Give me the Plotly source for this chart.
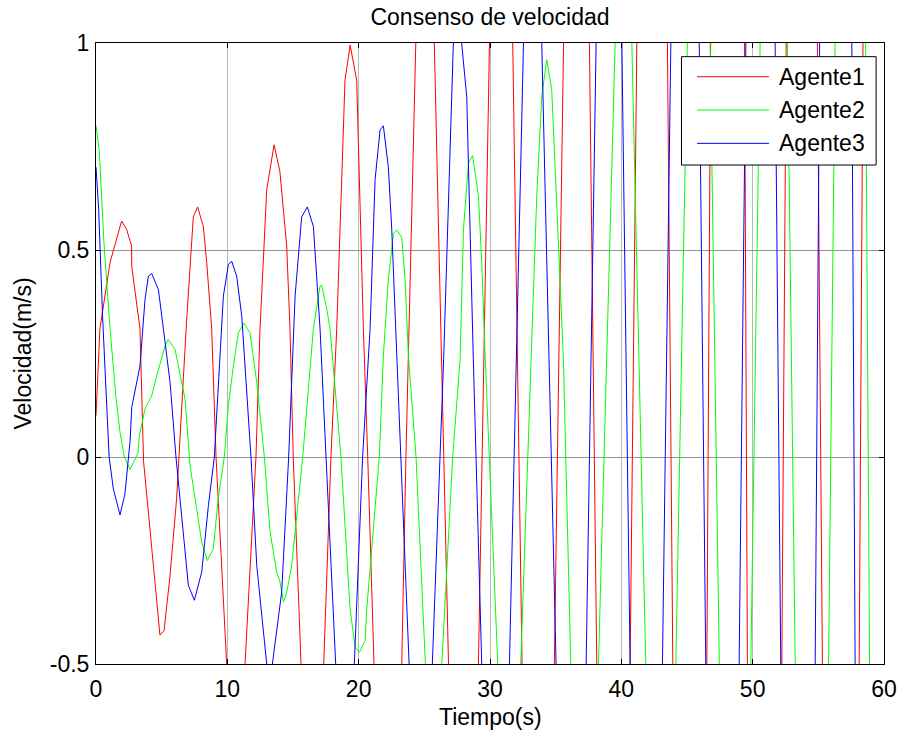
import plotly.graph_objects as go

# ---- data (time in s, velocity in m/s) ----
t_agente1 = [0, 0.3, 1.07, 1.95, 2.33, 2.71, 2.72, 3.35, 3.62, 4.11, 4.49, 4.87, 5.18, 5.64, 6.14,
             6.9, 7.41, 7.74, 8.17, 8.43, 8.81, 9.14, 9.95, 10.66, 11.35, 12.18, 12.49, 13.0, 13.56,
             14.0, 14.52, 14.77, 15.02, 15.61, 16.48, 17.34, 17.89, 18.33, 18.96, 19.35, 19.85, 20.36,
             20.69, 21.17, 22.2, 23.28, 23.6, 24.35, 25.05, 25.76, 26.84, 27.98, 29.12, 29.96, 30.85,
             31.73, 32.44, 33.67, 34.9, 35.6, 36.6, 37.57, 38.13, 39.4, 40.67, 41.18, 42.35, 43.51,
             43.92, 45.2, 46.51, 46.8, 48.1, 49.38, 49.6, 50.9, 52.22, 52.55, 53.75, 54.95, 55.31,
             56.7, 58.11, 58.4, 59.3, 60]
v_agente1 = [0.10, 0.31, 0.47, 0.57, 0.55, 0.51, 0.46, 0.31, -0.01, -0.18, -0.318, -0.43, -0.42, -0.286, -0.10,
             0.33, 0.58, 0.604, 0.557, 0.47, 0.31, 0.0, -0.5, -0.68, -0.5, 0.0, 0.31, 0.646, 0.754,
             0.69, 0.51, 0.31, 0.0, -0.5, -0.85, -0.5, 0.0, 0.31, 0.91, 0.995, 0.91, 0.31,
             0.0, -0.5, -1.1, -0.5, 0.0, 1.0, 1.35, 1.0, -0.5, -1.45, -0.5, 1.0, 1.8,
             1.0, -0.5, -1.9, -0.5, 1.0, 2.4, 1.0, -0.5, -2.6, -0.5, 1.0, 3.2, 1.0,
             -0.5, -3.6, -0.5, 1.0, 4.3, 1.0, -0.5, -4.8, -0.5, 1.0, 5.6, 1.0, -0.5,
             -6.2, -0.5, 1.0, 7.2, 4.0]

t_agente2 = [0, 0.25, 0.6, 1.07, 1.5, 1.83, 2.16, 2.59, 2.9, 3.2, 3.3, 3.73, 4.24, 4.62, 5.26, 5.5,
             6.02, 6.4, 6.78, 7.16, 7.54, 7.79, 8.05, 8.48, 8.93, 9.31, 9.77, 10.08, 10.46, 10.84,
             11.27, 11.73, 12.24, 12.82, 13.25, 13.76, 14.0, 14.27, 14.5, 14.9, 15.74, 16.55, 17.06,
             17.19, 17.57, 17.82, 18.65, 19.34, 19.73, 20.06, 20.49, 20.62, 21.57, 21.88, 22.26,
             22.65, 22.9, 23.28, 23.53, 23.79, 24.37, 25.08, 25.7, 26.33, 27.16, 27.72, 27.98, 28.36,
             28.68, 29.12, 29.37, 29.63, 30.59, 31.47, 32.34, 33.13, 33.56, 33.94, 34.32, 34.7, 34.95,
             35.2, 35.59, 36.15, 37.2, 38.26, 39.53, 40.17, 40.8, 41.86, 43.0, 44.15, 45.03, 45.9,
             46.76, 47.46, 48.66, 49.86, 50.57, 51.6, 52.65, 53.24, 54.5, 55.78, 56.28, 57.4, 58.6,
             58.9, 60]
v_agente2 = [0.80, 0.74, 0.52, 0.31, 0.15, 0.06, 0.0, -0.03, -0.01, 0.01, 0.05, 0.116, 0.148, 0.196, 0.268, 0.284,
             0.26, 0.204, 0.14, -0.02, -0.10, -0.15, -0.206, -0.25, -0.222, -0.10, 0.0, 0.124, 0.22, 0.30,
             0.323, 0.30, 0.18, 0.0, -0.18, -0.278, -0.30, -0.35, -0.33, -0.262, 0.0, 0.31, 0.413,
             0.414, 0.357, 0.31, 0.0, -0.366, -0.459, -0.472, -0.443, -0.366, 0.0, 0.244, 0.43,
             0.54, 0.549, 0.53, 0.43, 0.244, 0.0, -0.5, -0.6, -0.5, 0.0, 0.236, 0.55, 0.71,
             0.728, 0.63, 0.47, 0.244, -0.5, -0.72, -0.5, 0.236, 0.63, 0.87, 0.96, 0.887, 0.71,
             0.51, 0.236, -0.5, -0.85, -0.5, 1.0, 1.2, 1.0, -0.5, -1.05, -0.5, 1.0, 1.5,
             1.0, -0.5, -1.3, -0.5, 1.0, 1.8, 1.0, -0.5, -1.6, -0.5, 1.0, 2.2, 1.0,
             -0.5, -2.0]

t_agente3 = [0, 0.2, 0.5, 1.0, 1.32, 1.83, 2.2, 2.6, 2.72, 3.35, 3.73, 3.99, 4.24, 4.75, 5.13, 5.64,
             6.09, 6.52, 7.03, 7.49, 8.05, 8.56, 9.01, 9.7, 10.08, 10.33, 10.71, 11.1, 11.8, 12.24,
             13.0, 13.2, 13.43, 14.14, 14.67, 15.16, 15.66, 16.09, 16.55, 17.06, 17.51, 18.25, 18.96,
             19.67, 20.3, 20.87, 21.25, 21.63, 21.88, 22.26, 22.52, 22.9, 23.22, 23.84, 24.73, 25.61,
             26.47, 27.21, 27.56, 27.84, 28.23, 28.73, 29.37, 30.42, 31.48, 32.55, 33.25, 33.94,
             35.03, 36.18, 37.32, 38.08, 39.06, 40.04, 40.67, 41.9, 43.13, 43.77, 44.85, 45.93,
             46.43, 47.7, 48.97, 49.48, 50.6, 51.71, 52.14, 53.45, 54.76, 55.1, 56.3, 57.55, 57.8,
             59.1, 60]
v_agente3 = [0.70, 0.60, 0.34, 0.0, -0.077, -0.14, -0.09, 0.04, 0.12, 0.22, 0.38, 0.437, 0.443, 0.405, 0.31, 0.18,
             0.0, -0.14, -0.31, -0.346, -0.278, -0.117, 0.0, 0.389, 0.465, 0.473, 0.437, 0.34, 0.0, -0.262,
             -0.5, -0.53, -0.5, -0.326, 0.0, 0.389, 0.58, 0.604, 0.557, 0.31, 0.0, -0.5, -0.68,
             -0.5, 0.0, 0.31, 0.67, 0.79, 0.80, 0.70, 0.55, 0.244, 0.0, -0.5, -0.9, -0.5,
             0.236, 1.0, 1.04, 1.0, 0.87, 0.236, -0.5, -1.2, -0.5, 1.0, 1.45, 1.0,
             -0.5, -1.65, -0.5, 1.0, 2.0, 1.0, -0.5, -2.3, -0.5, 1.0, 2.7, 1.0,
             -0.5, -3.1, -0.5, 1.0, 3.7, 1.0, -0.5, -4.2, -0.5, 1.0, 5.0, 1.0, -0.5,
             -5.6, -3.0]

series_names = ["Agente1", "Agente2", "Agente3"]
series_colors = ["#ff0000", "#00ff00", "#0000ff"]
x_ticks = [0, 10, 20, 30, 40, 50, 60]
y_ticks = [-0.5, 0, 0.5, 1]
y_tick_labels = ["-0.5", "0", "0.5", "1"]

FONT = "Liberation Sans, Arial, sans-serif"
FS = 23

fig = go.Figure()
for name, color, t, v in zip(series_names, series_colors,
                             [t_agente1, t_agente2, t_agente3],
                             [v_agente1, v_agente2, v_agente3]):
    fig.add_trace(go.Scatter(x=t, y=v, mode="lines", name=name,
                             line=dict(color=color, width=1), showlegend=False))

# manual MATLAB-style legend
lx0, lx1, ly0, ly1 = 0.743, 0.990, 0.8035, 0.978
shapes = [dict(type="rect", xref="paper", yref="paper", x0=lx0, x1=lx1, y0=ly0, y1=ly1,
               line=dict(color="black", width=1), fillcolor="white", layer="above")]
annotations = []
entry_y = [0.9457, 0.8921, 0.8384]
for name, color, yy in zip(series_names, series_colors, entry_y):
    shapes.append(dict(type="line", xref="paper", yref="paper", x0=0.7627, x1=0.854, y0=yy, y1=yy,
                       line=dict(color=color, width=1), layer="above"))
    annotations.append(dict(text=name, xref="paper", yref="paper", x=0.8636, y=yy,
                            xanchor="left", yanchor="middle", showarrow=False,
                            font=dict(family=FONT, size=FS, color="black")))

annotations.append(dict(text="Tiempo(s)", xref="paper", yref="paper", x=0.5, y=0,
                        xanchor="center", yanchor="middle", yshift=-53, showarrow=False,
                        font=dict(family=FONT, size=FS, color="black")))
annotations.append(dict(text="Velocidad(m/s)", xref="paper", yref="paper", x=0, y=0.5,
                        xanchor="center", yanchor="middle", xshift=-74, textangle=-90,
                        showarrow=False, font=dict(family=FONT, size=FS, color="black")))

fig.update_layout(
    template="none",
    width=901, height=732,
    margin=dict(l=96, r=17, t=43, b=68, autoexpand=False),
    paper_bgcolor="white", plot_bgcolor="white",
    font=dict(family=FONT, size=FS, color="black"),
    title=dict(text="Consenso de velocidad", x=0.5, xref="paper", xanchor="center",
               y=1 - 17 / 732, yref="container", yanchor="middle",
               font=dict(family=FONT, size=FS, color="black")),
    shapes=shapes, annotations=annotations, showlegend=False,
)
fig.update_xaxes(range=[0, 60], tickvals=x_ticks, ticks="inside", ticklen=5, tickcolor="black",
                 showline=True, linecolor="black", linewidth=1, mirror="ticks", automargin=False,
                 showgrid=True, gridcolor="#b8b8b8", gridwidth=1.3, zeroline=False,
                 ticklabelstandoff=4, tickfont=dict(family=FONT, size=FS, color="black"))
fig.update_yaxes(range=[-0.5, 1], tickvals=y_ticks, ticktext=y_tick_labels, ticks="inside",
                 ticklen=5, tickcolor="black", showline=True, linecolor="black", linewidth=1,
                 mirror="ticks", automargin=False, showgrid=True, gridcolor="#939393", gridwidth=1,
                 zeroline=False, ticklabelstandoff=1,
                 tickfont=dict(family=FONT, size=FS, color="black"))

fig.write_html("out.html", config={"displayModeBar": False},
               post_script="document.body.style.margin='0';document.body.style.overflow='hidden';")
